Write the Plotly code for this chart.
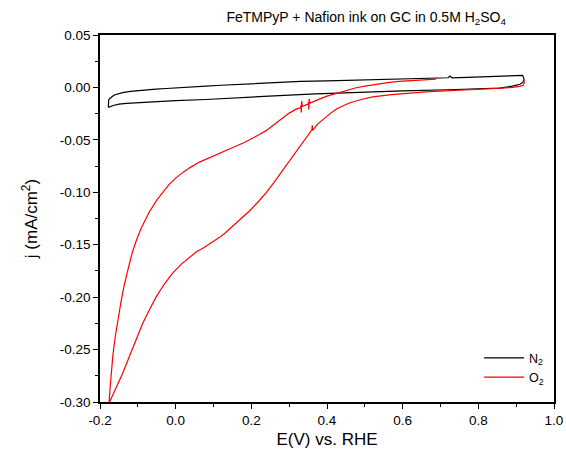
import plotly.graph_objects as go

# N2 cyclic voltammogram (closed loop)
n2_E = [-0.178, -0.177, -0.174, -0.17, -0.165, -0.16, -0.15, -0.14, -0.12, -0.10, -0.075, -0.052, -0.025, 0.0, 0.04, 0.08, 0.12, 0.168, 0.23, 0.30, 0.33, 0.40, 0.45, 0.5, 0.55, 0.6, 0.618, 0.67, 0.72, 0.725, 0.73, 0.79, 0.85, 0.917,
        0.921, 0.918, 0.91, 0.89, 0.856, 0.79, 0.72, 0.6, 0.52, 0.45, 0.37, 0.30, 0.23, 0.168, 0.08, 0.0, -0.05, -0.096, -0.13, -0.15, -0.165, -0.178]
n2_j = [-0.019, -0.012, -0.0105, -0.0092, -0.0080, -0.0070, -0.0058, -0.0050, -0.0038, -0.0030, -0.0023, -0.0017, -0.0010, -0.0003, 0.0005, 0.0013, 0.0021, 0.0030, 0.0042, 0.0054, 0.0057, 0.0063, 0.0068, 0.0072, 0.0077, 0.0082, 0.0083, 0.0088, 0.0092, 0.0108, 0.0092, 0.0098, 0.0104, 0.0115,
        0.008, 0.005, 0.003, 0.0012, -0.0006, -0.0015, -0.0022, -0.0032, -0.0040, -0.0050, -0.0062, -0.0073, -0.0088, -0.0103, -0.0115, -0.0125, -0.0133, -0.0142, -0.0152, -0.0160, -0.0172, -0.019]

# O2 cyclic voltammogram (starts near 0.69 V, scans negative, returns positive)
o2_E = [0.688, 0.65, 0.618, 0.59, 0.565, 0.54, 0.52, 0.50, 0.477, 0.46, 0.44, 0.42, 0.40, 0.38, 0.365, 0.355,
        0.353, 0.352, 0.351, 0.350, 0.345, 0.335, 0.333, 0.332, 0.331, 0.330,
        0.32, 0.30, 0.28, 0.26, 0.239, 0.22, 0.20, 0.18, 0.151, 0.12, 0.09, 0.063, 0.04, 0.02, 0.0, -0.017, -0.034, -0.05, -0.07, -0.08,
        -0.091, -0.103, -0.114, -0.125, -0.136, -0.145, -0.153, -0.160, -0.166, -0.171, -0.174, -0.176,
        -0.16, -0.14, -0.12, -0.10, -0.087, -0.07, -0.052, -0.03, -0.008, 0.015, 0.035, 0.054, 0.075, 0.095, 0.116, 0.13, 0.142, 0.16, 0.18, 0.195,
        0.217, 0.239, 0.26, 0.283, 0.305, 0.327, 0.345, 0.360, 0.361, 0.362, 0.375, 0.389, 0.41, 0.425, 0.441, 0.459, 0.49, 0.521, 0.57, 0.618, 0.67,
        0.722, 0.723, 0.724, 0.78, 0.85, 0.89, 0.909, 0.918, 0.921, 0.921]
o2_j = [0.0080, 0.0073, 0.0066, 0.0058, 0.0048, 0.0036, 0.0024, 0.0012, -0.0003, -0.0020, -0.0040, -0.0060, -0.0083, -0.0112, -0.0135, -0.0150,
        -0.0110, -0.0210, -0.0140, -0.0158, -0.0165, -0.0180, -0.0130, -0.0240, -0.0170, -0.0195,
        -0.0205, -0.0245, -0.0300, -0.0358, -0.0412, -0.0452, -0.0492, -0.0528, -0.0573, -0.0622, -0.0668, -0.0712, -0.0760, -0.0808, -0.0865, -0.0925, -0.1000, -0.1075, -0.1190, -0.1260,
        -0.1340, -0.1450, -0.1565, -0.1720, -0.1885, -0.2055, -0.2220, -0.2385, -0.2555, -0.2735, -0.2895, -0.3010,
        -0.2890, -0.2725, -0.2545, -0.2365, -0.2250, -0.2125, -0.2000, -0.1875, -0.1770, -0.1685, -0.1622, -0.1570, -0.1527, -0.1482, -0.1430, -0.1390, -0.1352, -0.1292, -0.1228, -0.1178,
        -0.1095, -0.1005, -0.0905, -0.0790, -0.0675, -0.0560, -0.0470, -0.0405, -0.0360, -0.0410, -0.0350, -0.0305, -0.0245, -0.0205, -0.0175, -0.0148, -0.0115, -0.0090, -0.0068, -0.0052, -0.0040,
        -0.0031, -0.0015, -0.0031, -0.0022, -0.0012, 0.0, 0.0010, 0.0020, 0.0040, 0.0070]

x_ticks = [-0.2, 0.0, 0.2, 0.4, 0.6, 0.8, 1.0]
y_ticks = [0.05, 0.00, -0.05, -0.10, -0.15, -0.20, -0.25, -0.30]

font_family = "Liberation Sans, Arial, sans-serif"

fig = go.Figure()
fig.add_trace(go.Scatter(x=n2_E, y=n2_j, mode="lines", name="N<sub>2</sub>",
                         line=dict(color="black", width=1.2)))
fig.add_trace(go.Scatter(x=o2_E, y=o2_j, mode="lines", name="O<sub>2</sub>",
                         line=dict(color="#ff0000", width=1.2)))

axis_common = dict(showline=True, linecolor="black", linewidth=1.5, mirror=True,
                   ticks="outside", ticklen=5, tickwidth=1.3, tickcolor="black",
                   showgrid=False, zeroline=False, automargin=False,
                   tickfont=dict(family=font_family, size=13.5, color="black"))

fig.update_xaxes(range=[-0.2, 1.0], tickvals=x_ticks, ticktext=[f"{v:.1f}" for v in x_ticks],
                 minor=dict(dtick=0.1, ticks="outside", ticklen=3, tickwidth=1.2, tickcolor="black", tick0=-0.2),
                 title=dict(text="E(V) vs. RHE", font=dict(family=font_family, size=17, color="black"), standoff=6),
                 **axis_common)
fig.update_yaxes(range=[-0.30, 0.05], tickvals=y_ticks, ticktext=[f"{v:.2f}" for v in y_ticks],
                 minor=dict(dtick=0.025, ticks="outside", ticklen=3, tickwidth=1.2, tickcolor="black", tick0=0.0),
                 title=dict(text="j (mA/cm<sup>2</sup>)", font=dict(family=font_family, size=17, color="black"), standoff=18),
                 **axis_common)

fig.update_layout(
    width=566, height=457,
    margin=dict(l=100, r=12, t=35, b=55),
    paper_bgcolor="white", plot_bgcolor="white",
    title=dict(text="FeTMPyP + Nafion ink on GC in 0.5M H<sub>2</sub>SO<sub>4</sub>",
               x=0.647, xanchor="center", y=0.962, yanchor="middle",
               font=dict(family=font_family, size=14, color="black")),
    legend=dict(x=0.835, y=0.16, xanchor="left", yanchor="top",
                bgcolor="rgba(0,0,0,0)", borderwidth=0,
                font=dict(family=font_family, size=12.5, color="black"),
                itemwidth=40),
    showlegend=True,
)

fig.write_html("out.html")
